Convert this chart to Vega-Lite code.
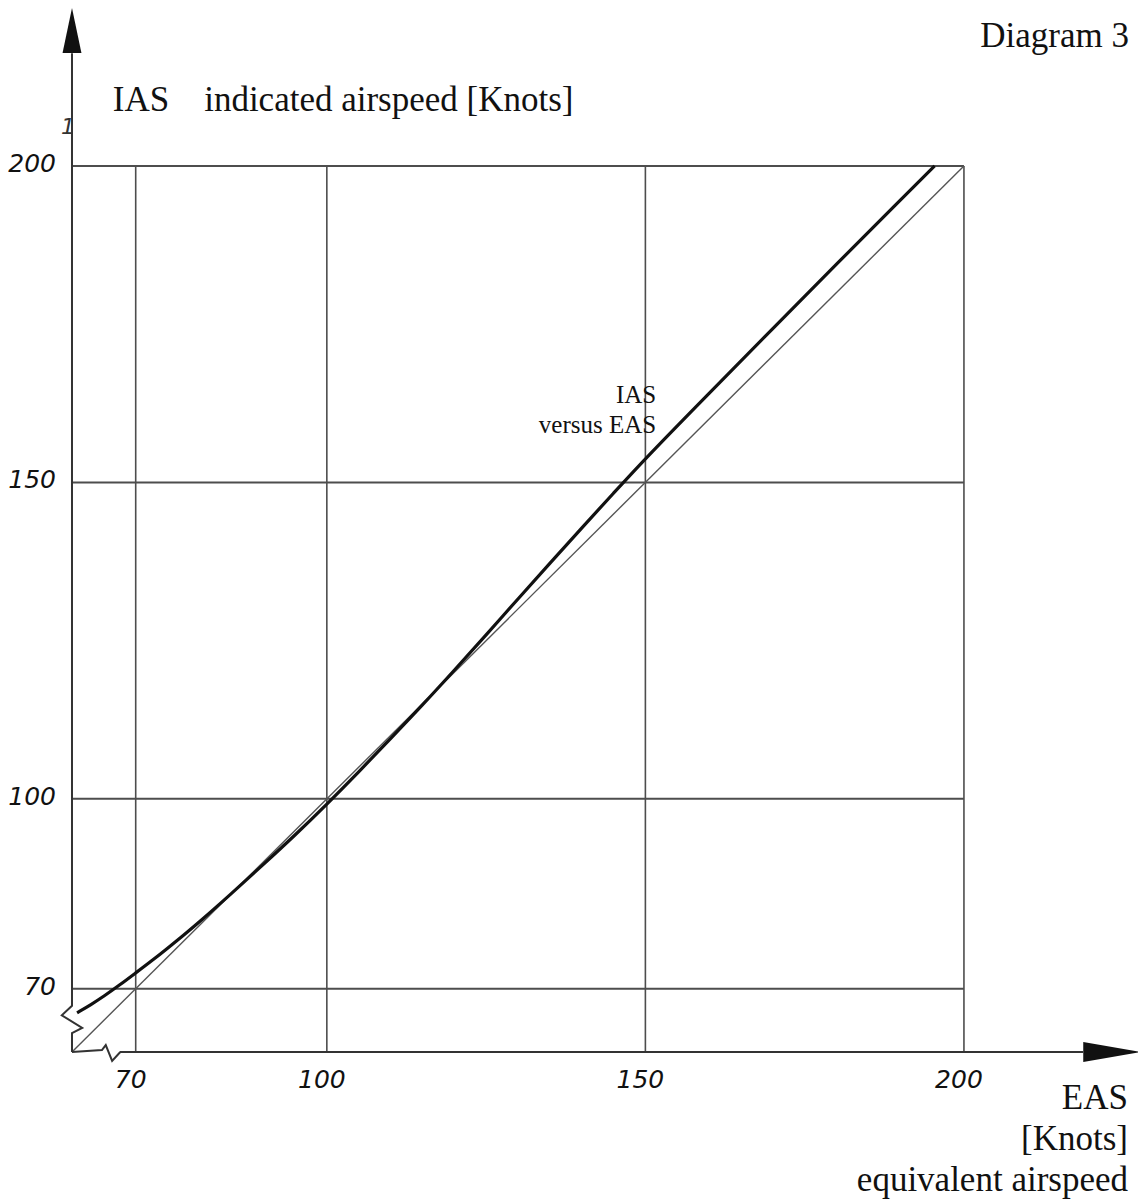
{
  "$schema": "https://vega.github.io/schema/vega-lite/v6.json",
  "width": 1138,
  "height": 1202,
  "autosize": {"type": "none"},
  "padding": 0,
  "background": "white",
  "config": {"view": {"stroke": null}},
  "datasets": {
    "curve": [
      {"eas": 60.8, "ias": 66.2}, {"eas": 63, "ias": 67.5}, {"eas": 65, "ias": 68.8},
      {"eas": 67.5, "ias": 70.6}, {"eas": 70, "ias": 72.5}, {"eas": 72.5, "ias": 74.4},
      {"eas": 75, "ias": 76.4}, {"eas": 77.5, "ias": 78.45}, {"eas": 80, "ias": 80.55},
      {"eas": 85, "ias": 85.0}, {"eas": 90, "ias": 89.6}, {"eas": 95, "ias": 94.25},
      {"eas": 100, "ias": 99.15}, {"eas": 105, "ias": 104.25}, {"eas": 110, "ias": 109.5},
      {"eas": 115, "ias": 114.8}, {"eas": 120, "ias": 120.3}, {"eas": 125, "ias": 125.9},
      {"eas": 130, "ias": 131.6}, {"eas": 135, "ias": 137.2}, {"eas": 140, "ias": 142.8},
      {"eas": 145, "ias": 148.3}, {"eas": 150, "ias": 153.8}, {"eas": 160, "ias": 164.1},
      {"eas": 170, "ias": 174.3}, {"eas": 180, "ias": 184.5}, {"eas": 190, "ias": 194.6},
      {"eas": 195.4, "ias": 200}
    ],
    "diag": [{"eas": 60, "ias": 60}, {"eas": 200, "ias": 200}],
    "axisY": [
      {"seq": 1, "eas": 60, "ias": 217.8}, {"seq": 2, "eas": 60, "ias": 67.3},
      {"seq": 3, "eas": 58.4, "ias": 65.8}, {"seq": 4, "eas": 61.6, "ias": 63.8},
      {"seq": 5, "eas": 60, "ias": 63.0}, {"seq": 6, "eas": 60, "ias": 60}
    ],
    "axisX": [
      {"seq": 1, "eas": 60, "ias": 60}, {"seq": 2, "eas": 64.7, "ias": 60.3},
      {"seq": 3, "eas": 65.3, "ias": 61.1}, {"seq": 4, "eas": 66.3, "ias": 58.6},
      {"seq": 5, "eas": 67.4, "ias": 59.8}, {"seq": 6, "eas": 67.6, "ias": 60},
      {"seq": 7, "eas": 218.7, "ias": 60}
    ],
    "grid": [{"value": 70}, {"value": 100}, {"value": 150}, {"value": 200}],
    "arrowY": [{"eas": 60, "ias": 221.4}],
    "arrowX": [{"eas": 223.2, "ias": 60}],
    "bigRight": [
      {"label": "Diagram 3", "eas": 225.9, "ias": 218.8},
      {"label": "EAS", "eas": 225.75, "ias": 51.0},
      {"label": "[Knots]", "eas": 225.75, "ias": 44.5},
      {"label": "equivalent airspeed", "eas": 225.75, "ias": 38.0}
    ],
    "bigLeft": [
      {"label": "IAS\u00a0\u00a0\u00a0\u00a0indicated airspeed [Knots]", "eas": 66.4, "ias": 208.7}
    ],
    "annot": [
      {"label": "IAS", "eas": 151.7, "ias": 162.5},
      {"label": "versus EAS", "eas": 151.7, "ias": 157.8}
    ],
    "stray": [{"label": "1", "eas": 60, "ias": 206.1}]
  },
  "layer": [
    {
      "data": {"name": "grid"},
      "mark": {"type": "rule", "color": "#4d4d4d", "strokeWidth": 1.6},
      "encoding": {
        "x": {"field": "value", "type": "quantitative", "scale": {"domain": [48.7, 227.32], "nice": false, "zero": false}, "axis": null},
        "y": {"datum": 60, "type": "quantitative", "scale": {"domain": [36.3, 226.22], "nice": false, "zero": false}, "axis": null},
        "y2": {"datum": 200}
      }
    },
    {
      "data": {"name": "grid"},
      "mark": {"type": "rule", "color": "#4d4d4d", "strokeWidth": 2},
      "encoding": {
        "y": {"field": "value", "type": "quantitative", "scale": {"domain": [36.3, 226.22], "nice": false, "zero": false}, "axis": null},
        "x": {"datum": 60, "type": "quantitative", "scale": {"domain": [48.7, 227.32], "nice": false, "zero": false}, "axis": null},
        "x2": {"datum": 200}
      }
    },
    {
      "data": {"name": "diag"},
      "mark": {"type": "line", "color": "#555555", "strokeWidth": 1.4},
      "encoding": {
        "x": {"field": "eas", "type": "quantitative", "scale": {"domain": [48.7, 227.32], "nice": false, "zero": false}, "axis": null},
        "y": {"field": "ias", "type": "quantitative", "scale": {"domain": [36.3, 226.22], "nice": false, "zero": false}, "axis": null}
      }
    },
    {
      "data": {"name": "curve"},
      "mark": {"type": "line", "color": "#111111", "strokeWidth": 3.2, "interpolate": "basis"},
      "encoding": {
        "x": {"field": "eas", "type": "quantitative", "scale": {"domain": [48.7, 227.32], "nice": false, "zero": false}, "axis": null},
        "y": {"field": "ias", "type": "quantitative", "scale": {"domain": [36.3, 226.22], "nice": false, "zero": false}, "axis": null}
      }
    },
    {
      "data": {"name": "axisY"},
      "mark": {"type": "line", "color": "#333333", "strokeWidth": 2},
      "encoding": {
        "x": {"field": "eas", "type": "quantitative", "scale": {"domain": [48.7, 227.32], "nice": false, "zero": false}, "axis": null},
        "y": {"field": "ias", "type": "quantitative", "scale": {"domain": [36.3, 226.22], "nice": false, "zero": false}, "axis": null},
        "order": {"field": "seq", "type": "quantitative"}
      }
    },
    {
      "data": {"name": "axisX"},
      "mark": {"type": "line", "color": "#333333", "strokeWidth": 2},
      "encoding": {
        "x": {"field": "eas", "type": "quantitative", "scale": {"domain": [48.7, 227.32], "nice": false, "zero": false}, "axis": null},
        "y": {"field": "ias", "type": "quantitative", "scale": {"domain": [36.3, 226.22], "nice": false, "zero": false}, "axis": null},
        "order": {"field": "seq", "type": "quantitative"}
      }
    },
    {
      "data": {"name": "arrowY"},
      "mark": {"type": "point", "filled": true, "color": "#111111", "opacity": 1, "size": 2025, "shape": "M0,-1L0.42,1L-0.42,1Z"},
      "encoding": {
        "x": {"field": "eas", "type": "quantitative", "scale": {"domain": [48.7, 227.32], "nice": false, "zero": false}, "axis": null},
        "y": {"field": "ias", "type": "quantitative", "scale": {"domain": [36.3, 226.22], "nice": false, "zero": false}, "axis": null}
      }
    },
    {
      "data": {"name": "arrowX"},
      "mark": {"type": "point", "filled": true, "color": "#111111", "opacity": 1, "size": 3249, "shape": "M1,0L-1,-0.35L-1,0.35Z"},
      "encoding": {
        "x": {"field": "eas", "type": "quantitative", "scale": {"domain": [48.7, 227.32], "nice": false, "zero": false}, "axis": null},
        "y": {"field": "ias", "type": "quantitative", "scale": {"domain": [36.3, 226.22], "nice": false, "zero": false}, "axis": null}
      }
    },
    {
      "data": {"name": "grid"},
      "mark": {"type": "text", "font": "DejaVu Sans", "fontStyle": "italic", "fontSize": 25, "color": "#111111", "align": "center", "baseline": "alphabetic", "dx": -5},
      "encoding": {
        "x": {"field": "value", "type": "quantitative", "scale": {"domain": [48.7, 227.32], "nice": false, "zero": false}, "axis": null},
        "y": {"datum": 54.3, "type": "quantitative", "scale": {"domain": [36.3, 226.22], "nice": false, "zero": false}, "axis": null},
        "text": {"field": "value", "type": "nominal"}
      }
    },
    {
      "data": {"name": "grid"},
      "mark": {"type": "text", "font": "DejaVu Sans", "fontStyle": "italic", "fontSize": 25, "color": "#111111", "align": "right", "baseline": "middle", "dx": -16, "dy": -2},
      "encoding": {
        "y": {"field": "value", "type": "quantitative", "scale": {"domain": [36.3, 226.22], "nice": false, "zero": false}, "axis": null},
        "x": {"datum": 60, "type": "quantitative", "scale": {"domain": [48.7, 227.32], "nice": false, "zero": false}, "axis": null},
        "text": {"field": "value", "type": "nominal"}
      }
    },
    {
      "data": {"name": "stray"},
      "mark": {"type": "text", "font": "DejaVu Sans", "fontStyle": "italic", "fontSize": 22, "color": "#333333", "align": "right", "baseline": "middle", "dx": 3},
      "encoding": {
        "x": {"field": "eas", "type": "quantitative", "scale": {"domain": [48.7, 227.32], "nice": false, "zero": false}, "axis": null},
        "y": {"field": "ias", "type": "quantitative", "scale": {"domain": [36.3, 226.22], "nice": false, "zero": false}, "axis": null},
        "text": {"field": "label", "type": "nominal"}
      }
    },
    {
      "data": {"name": "bigRight"},
      "mark": {"type": "text", "font": "Liberation Serif", "fontSize": 35, "color": "#111111", "align": "right", "baseline": "alphabetic"},
      "encoding": {
        "x": {"field": "eas", "type": "quantitative", "scale": {"domain": [48.7, 227.32], "nice": false, "zero": false}, "axis": null},
        "y": {"field": "ias", "type": "quantitative", "scale": {"domain": [36.3, 226.22], "nice": false, "zero": false}, "axis": null},
        "text": {"field": "label", "type": "nominal"}
      }
    },
    {
      "data": {"name": "bigLeft"},
      "mark": {"type": "text", "font": "Liberation Serif", "fontSize": 35, "color": "#111111", "align": "left", "baseline": "alphabetic"},
      "encoding": {
        "x": {"field": "eas", "type": "quantitative", "scale": {"domain": [48.7, 227.32], "nice": false, "zero": false}, "axis": null},
        "y": {"field": "ias", "type": "quantitative", "scale": {"domain": [36.3, 226.22], "nice": false, "zero": false}, "axis": null},
        "text": {"field": "label", "type": "nominal"}
      }
    },
    {
      "data": {"name": "annot"},
      "mark": {"type": "text", "font": "Liberation Serif", "fontSize": 25, "color": "#111111", "align": "right", "baseline": "alphabetic"},
      "encoding": {
        "x": {"field": "eas", "type": "quantitative", "scale": {"domain": [48.7, 227.32], "nice": false, "zero": false}, "axis": null},
        "y": {"field": "ias", "type": "quantitative", "scale": {"domain": [36.3, 226.22], "nice": false, "zero": false}, "axis": null},
        "text": {"field": "label", "type": "nominal"}
      }
    }
  ]
}
